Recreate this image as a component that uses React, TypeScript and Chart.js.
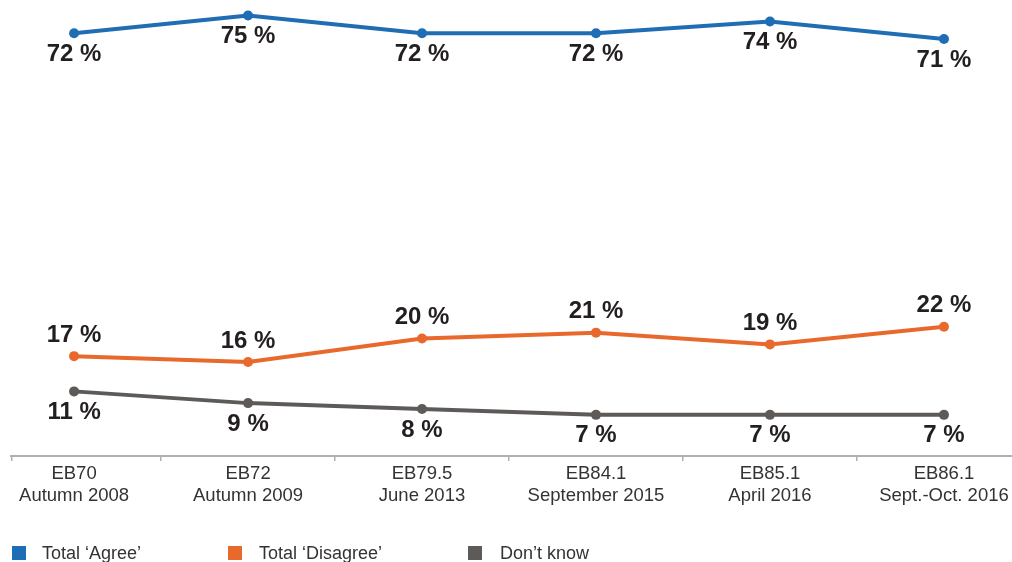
import React, { useEffect, useRef } from "react";
import { Chart, registerables } from "chart.js";

Chart.register(...registerables);

const waves: string[][] = [
  ["EB70", "Autumn 2008"],
  ["EB72", "Autumn 2009"],
  ["EB79.5", "June 2013"],
  ["EB84.1", "September 2015"],
  ["EB85.1", "April 2016"],
  ["EB86.1", "Sept.-Oct. 2016"],
];
const agree = [72, 75, 72, 72, 74, 71];
const disagree = [17, 16, 20, 21, 19, 22];
const dontKnow = [11, 9, 8, 7, 7, 7];

const seriesNames = ["Total \u2018Agree\u2019", "Total \u2018Disagree\u2019", "Don\u2019t know"];
const seriesColors = ["#1f6db5", "#e9692c", "#5d5a58"];
const labelOffsets = [21, -21, 21];

const FONT = "'Liberation Sans', Arial, Helvetica, sans-serif";
const TEXT = "#231f20";

const valueLabels = {
  id: "valueLabels",
  afterDatasetsDraw(chart: any) {
    const ctx = chart.ctx;
    ctx.save();
    ctx.font = `bold 24px ${FONT}`;
    ctx.fillStyle = TEXT;
    ctx.textAlign = "center";
    ctx.textBaseline = "middle";
    chart.data.datasets.forEach((ds: any, di: number) => {
      const meta = chart.getDatasetMeta(di);
      meta.data.forEach((pt: any, i: number) => {
        const v = ds.data[i].y;
        ctx.fillText(`${v} %`, pt.x, pt.y + labelOffsets[di]);
      });
    });
    ctx.restore();
  },
};

const axisStartTick = {
  id: "axisStartTick",
  afterDraw(chart: any) {
    const { ctx, chartArea } = chart;
    ctx.save();
    ctx.strokeStyle = "#b0b0b0";
    ctx.lineWidth = 1.5;
    ctx.beginPath();
    ctx.moveTo(chartArea.left + 0.75, chartArea.bottom);
    ctx.lineTo(chartArea.left + 0.75, chartArea.bottom + 5);
    ctx.stroke();
    ctx.restore();
  },
};

export default function App() {
  const ref = useRef<HTMLCanvasElement>(null);
  useEffect(() => {
    document.body.style.margin = "0";
    const series = [agree, disagree, dontKnow];
    const chart = new Chart(ref.current!, {
      type: "line",
      data: {
        datasets: series.map((s, si) => ({
          label: seriesNames[si],
          data: s.map((v, i) => ({ x: i, y: v })),
          borderColor: seriesColors[si],
          backgroundColor: seriesColors[si],
          borderWidth: 4,
          pointRadius: 5,
          pointBorderWidth: 0,
          tension: 0,
          clip: false as any,
        })),
      },
      options: {
        animation: false,
        responsive: false,
        maintainAspectRatio: false,
        layout: { autoPadding: false, padding: { top: 5, right: 0, bottom: 53, left: 11 } },
        plugins: { legend: { display: false }, tooltip: { enabled: false } },
        scales: {
          x: {
            type: "linear",
            min: -0.3625,
            max: 5.391,
            afterBuildTicks(scale: any) {
              scale.ticks = waves.map((_, i) => ({ value: i }));
            },
            afterFit(scale: any) {
              scale.paddingLeft = 0;
              scale.paddingRight = 0;
            },
            grid: {
              offset: true,
              drawOnChartArea: false,
              drawTicks: true,
              tickLength: 5,
              color: "#b0b0b0",
              tickColor: "#b0b0b0",
              lineWidth: 1.5,
            },
            border: { display: true, color: "#b0b0b0", width: 2 },
            ticks: {
              padding: 2,
              autoSkip: false,
              maxRotation: 0,
              color: "#333333",
              font: { family: FONT, size: 18.5, lineHeight: 1.19 },
              callback: (v: any) => waves[Math.round(Number(v))] ?? "",
            },
          },
          y: {
            display: false,
            min: 0,
            max: 76.8,
          },
        },
      },
      plugins: [valueLabels, axisStartTick],
    });
    return () => chart.destroy();
  }, []);

  const legendPos = [
    { box: 12, text: 42 },
    { box: 228, text: 259 },
    { box: 468, text: 500 },
  ];

  return (
    <div style={{ position: "relative", width: 1012, height: 562, overflow: "hidden", background: "#fff" }}>
      <canvas ref={ref} width={1012} height={562} style={{ position: "absolute", left: 0, top: 0 }} />
      {seriesNames.map((n, i) => (
        <React.Fragment key={n}>
          <div
            style={{
              position: "absolute",
              left: legendPos[i].box,
              top: 546,
              width: 14,
              height: 14,
              background: seriesColors[i],
            }}
          />
          <div
            style={{
              position: "absolute",
              left: legendPos[i].text,
              top: 542,
              fontFamily: FONT,
              fontSize: 18,
              lineHeight: "22px",
              color: "#333333",
              whiteSpace: "nowrap",
            }}
          >
            {n}
          </div>
        </React.Fragment>
      ))}
    </div>
  );
}
